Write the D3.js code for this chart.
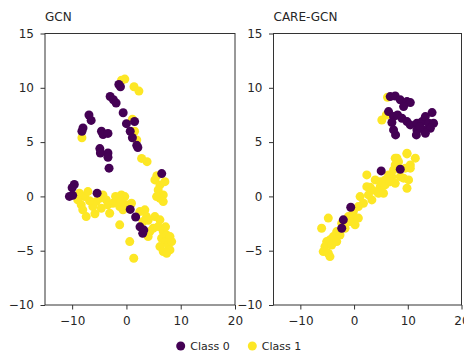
<!DOCTYPE html>
<html>
<head>
<meta charset="utf-8">
<script src="https://cdn.jsdelivr.net/npm/d3@7"></script>
<style>
  body { margin: 0; background: #fff; }
  svg { display: block; }
</style>
</head>
<body>
<svg id="chart" width="464" height="353"></svg>
<script>
// panel titles and class labels
const panelTitles = ["GCN", "CARE-GCN"];
const classLabels = ["Class 0", "Class 1"];
const classColors = ["#440154", "#fde725"];
const xTicks = [-10, 0, 10, 20];
const yTicks = [-10, -5, 0, 5, 10, 15];

// GCN embedding, class 0 (purple)
const gcn0 = [[-1.4,10.3],[-1.1,10.1],[-3.0,9.2],[-2.4,8.9],[-1.9,8.6],[-0.6,7.7],[0,6.7],[1.5,6.9],
  [0.7,6.0],[1.1,5.4],[1.9,4.7],[2.1,4.5],[-6.9,7.5],[-6.5,7.0],[-8.0,6.3],[-8.2,6.0],[-4.6,6.0],
  [-4.3,5.7],[-3.4,5.8],[-4.9,4.4],[-4.8,4.0],[-3.4,4.0],[-3.4,3.6],[-3.2,2.6],[6.5,2.1],[-9.6,1.1],
  [-10.0,0.8],[-10.5,0.0],[-9.9,0.1],[-5.4,0.3],[0.7,-1.2],[1.7,-1.9],[2.5,-2.8],[3.2,-3.1],[3.0,-3.4]];

// GCN embedding, class 1 (yellow)
const gcn1 = [[-0.3,10.8],[-0.9,10.7],[1.4,10.1],[2.3,9.7],[1.1,7.1],[1.5,6.0],[1.9,5.2],[-8.2,5.4],
  [2.8,3.5],[3.8,3.2],[5.6,1.9],[-8.65,0.29],[-7.72,-0.02],[-7.1,0.44],[-8.96,-0.32],[-8.33,-0.78],
  [-8.04,-1.24],[-7.41,-1.86],[-6.19,-0.94],[-5.56,-0.48],[-4.94,-0.17],[-4.33,0.14],[-3.7,-0.32],
  [-4.63,-1.09],[-3.41,-0.78],[-3.09,-1.55],[-2.48,-0.63],[-1.56,-0.17],[-0.93,0.14],[-0.31,-0.02],
  [-1.24,-0.94],[-0.63,-1.24],[0,-0.78],[0.93,-0.63],[2.46,-1.4],[3.39,-1.24],[3.7,-1.86],[3.07,-2.32],
  [5.24,-1.86],[6.17,-2.16],[4.31,-3.24],[4.93,-2.93],[5.85,-2.78],[6.78,-3.24],[7.41,-3.55],
  [6.48,-3.85],[7.09,-4.16],[7.7,-4.47],[8.02,-4.93],[6.17,-4.62],[6.78,-5.08],[7.41,-5.23],
  [-1.24,-2.62],[0.61,-4.16],[1.35,-5.69],[5.24,1.52],[6.17,1.06],[5.85,0.6],[6.78,0.14],[6.17,-0.17],
  [5.56,-0.02],[6.78,-0.48],[7.09,1.36],[8.02,-3.7],[8.33,-4.16],[4.0,-3.7],[-6.8,-0.4],[-5.8,-1.6],
  [-2.0,0.0],[-1.0,-0.5],[4.0,-2.2],[7.2,-2.8]];

// CARE-GCN embedding, class 0 (purple)
const care0 = [[6.73,9.19],[7.66,9.25],[8.6,8.89],[9.85,8.73],[10.47,8.64],[9.22,8.27],[6.42,7.81],
  [7.35,7.35],[8.1,7.5],[8.91,7.2],[7.04,6.8],[9.85,6.89],[10.47,6.58],[11.7,6.74],[12.65,6.89],
  [13.27,7.35],[14.52,7.72],[13.9,6.74],[14.8,6.74],[12.96,6.12],[14.2,6.28],[11.7,6.12],[11.6,5.66],
  [13.27,5.82],[7.73,5.66],[12.3,6.43],[7.35,6.12],[5.05,2.35],[8.6,2.5],[-0.62,-1.0],[-2.0,-2.16],
  [-2.3,-2.93]];

// CARE-GCN embedding, class 1 (yellow)
const care1 = [[6.23,9.13],[5.17,7.04],[6.0,7.5],[9.85,3.98],[11.4,3.52],[7.66,3.52],[8.28,3.2],
  [10.47,2.9],[9.53,2.6],[7.35,2.44],[2.37,1.98],[7.04,1.82],[9.22,1.68],[5.79,1.52],[3.93,1.52],
  [2.99,0.85],[4.86,0.9],[7.98,3.52],[9.85,3.91],[6.42,1.98],[8.6,1.82],[10.15,1.52],[9.85,0.75],
  [4.86,1.36],[5.79,1.06],[6.73,1.36],[7.66,1.2],[4.24,0.44],[5.48,0.29],[3.31,0.6],[2.68,0.14],
  [1.12,-0.02],[1.74,-0.63],[0.8,-0.94],[-0.13,-1.4],[0.19,-2.0],[-1.07,-1.86],[-0.75,-2.32],
  [0.8,-2.0],[0.19,-2.62],[-4.8,-2.0],[-6.04,-2.93],[-2.3,-2.47],[-3.23,-3.24],[-3.87,-3.7],
  [-4.49,-4.0],[-5.1,-4.16],[-5.42,-4.62],[-4.17,-4.47],[-5.74,-5.08],[-4.8,-5.23],[-4.49,-5.54],
  [-3.23,-4.16],[-2.62,-3.55],[-1.68,-2.93],[2.37,0.9],[3.31,-0.32],[4.55,0.29],[7.66,2.9],[10.47,2.6]];

const panels = [
    { title: panelTitles[0], left: 45, right: 235, series: [gcn1, gcn0] },
    { title: panelTitles[1], left: 273.5, right: 461.5, series: [care1, care0] }
];
const plotTop = 33.5, plotBottom = 305;
const fontFamily = "DejaVu Sans, sans-serif";
const textColor = "#262626";
const svg = d3.select("#chart");

panels.forEach(p => {
    const x = d3.scaleLinear().domain([-15, 20]).range([p.left, p.right]);
    const y = d3.scaleLinear().domain([-10, 15]).range([plotBottom, plotTop]);
    const g = svg.append("g");

    // scatter points, yellow first then purple on top
    p.series.forEach((pts, si) => {
        const color = si === 0 ? classColors[1] : classColors[0];
        g.append("g").selectAll("circle")
            .data(pts)
            .join("circle")
            .attr("cx", d => x(d[0]))
            .attr("cy", d => y(d[1]))
            .attr("r", 4.5)
            .attr("fill", color);
    });

    // axes
    const fmt = d => d3.format("d")(d).replace("-", "\u2212");
    const xAxis = g.append("g")
        .attr("transform", `translate(0,${plotBottom})`)
        .call(d3.axisBottom(x).tickValues(xTicks).tickSize(4.5).tickPadding(6.5).tickFormat(fmt));
    const yAxis = g.append("g")
        .attr("transform", `translate(${p.left},0)`)
        .call(d3.axisLeft(y).tickValues(yTicks).tickSize(4.5).tickPadding(6.5).tickFormat(fmt));
    [xAxis, yAxis].forEach(a => {
        a.select(".domain").remove();
        a.selectAll("line").attr("stroke", "#333");
        a.selectAll("text").attr("font-family", fontFamily).attr("font-size", "12px").attr("fill", textColor);
    });

    // frame
    g.append("rect")
        .attr("x", p.left).attr("y", plotTop)
        .attr("width", p.right - p.left).attr("height", plotBottom - plotTop)
        .attr("fill", "none").attr("stroke", "#333").attr("stroke-width", 1);

    // title
    g.append("text")
        .attr("x", p.left).attr("y", 20.7)
        .attr("font-family", fontFamily).attr("font-size", "12px").attr("fill", textColor)
        .text(p.title);
});

// legend
const legend = svg.append("g").attr("transform", "translate(180.7,346)");
classLabels.forEach((lab, i) => {
    const item = legend.append("g").attr("transform", `translate(${i * 71.6},0)`);
    item.append("circle").attr("r", 4.5).attr("fill", classColors[i]);
    item.append("text")
        .attr("x", 9.5).attr("y", 4)
        .attr("font-family", fontFamily).attr("font-size", "11px").attr("fill", textColor)
        .text(lab);
});
</script>
</body>
</html>
